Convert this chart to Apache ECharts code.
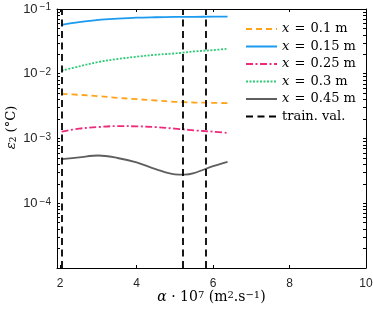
<!DOCTYPE html>
<html><head><meta charset="utf-8">
<script src="https://cdn.jsdelivr.net/npm/echarts@6/dist/echarts.min.js"></script>
<style>html,body{margin:0;padding:0;background:#fff}#c{width:373px;height:313px}</style>
</head><body><div id="c"></div>
<script>
// ---- data ----
const alphaVals = [2.04, 2.5, 3, 3.5, 4, 4.5, 5, 5.25, 5.5, 6, 6.38];
const eps_x010 = [0.0049, 0.00472, 0.0045, 0.00425, 0.00405, 0.00386, 0.00369, 0.00364, 0.0036, 0.00356, 0.00351];
const eps_x015 = [0.0568, 0.0625, 0.0678, 0.0710, 0.0735, 0.0746, 0.0754, 0.0755, 0.0756, 0.0762, 0.0763];
const eps_x025 = [0.001276, 0.00142, 0.001503, 0.001556, 0.00154, 0.001503, 0.00142, 0.001378, 0.001336, 0.001276, 0.001216];
const eps_x030 = [0.01116, 0.0130, 0.01517, 0.01687, 0.01832, 0.01965, 0.02058, 0.0213, 0.0221, 0.0232, 0.0243];
const eps_x045 = [4.8e-4, 5.12e-4, 5.46e-4, 5.0e-4, 4.27e-4, 3.36e-4, 2.8e-4, 2.77e-4, 2.92e-4, 3.74e-4, 4.36e-4];
const trainVals = [2.04, 5.2, 5.82];
const seriesNames = ['x = 0.1 m', 'x = 0.15 m', 'x = 0.25 m', 'x = 0.3 m', 'x = 0.45 m'];
const trainName = 'train. val.';
const xTicks = [2, 4, 6, 8, 10];
const yTicks = [1e-4, 1e-3, 1e-2, 1e-1];
const xRange = [1.92, 10];
const yRange = [1e-5, 1e-1];

// minor log tick values (k x 10^d)
const yMinor = [];
for (let d = -5; d <= -2; d++) for (let k = 1; k <= 9; k++) yMinor.push(k * Math.pow(10, d));
yMinor.push(1e-1);

const pairs = (ys) => alphaVals.map((a, i) => [a, ys[i]]);
const allY = [eps_x010, eps_x015, eps_x025, eps_x030, eps_x045];
const colors = ['#FFA31A', '#1A9BEF', '#EE2A7B', '#2FCB76', '#5E5E5E'];
const dashes = [[6, 4], 'solid', [7, 2.5, 2, 2.5], [2, 1.5], 'solid'];

const serif = 'DejaVu Serif';
const sans = 'Liberation Sans';

const chart = echarts.init(document.getElementById('c'), null, {renderer: 'canvas'});

const series = allY.map((ys, i) => ({
  name: seriesNames[i], type: 'line', data: pairs(ys), smooth: 0.35,
  symbol: 'none', showSymbol: false, xAxisIndex: 0, yAxisIndex: 0,
  lineStyle: {color: colors[i], width: 1.8, type: dashes[i]},
  itemStyle: {color: colors[i]}, z: 3
}));
series.push({
  name: trainName, type: 'line', data: [], symbol: 'none',
  lineStyle: {color: '#000', width: 1.8, type: [7, 4.5]}, itemStyle: {color: '#000'},
  markLine: {
    silent: true, symbol: 'none', label: {show: false},
    lineStyle: {color: '#000', width: 1.8, type: [7, 4.5]},
    data: trainVals.map(v => ({xAxis: v}))
  }, z: 4
});

const axisLineStyle = {show: true, lineStyle: {color: '#000', width: 1}};

chart.setOption({
  animation: false,
  backgroundColor: '#fff',
  grid: {left: 57, right: 7, top: 9, bottom: 45, containLabel: false, outerBoundsMode: 'none'},
  legend: {
    orient: 'vertical', left: 245, top: 22, padding: 0,
    itemWidth: 31, itemHeight: 14, itemGap: 3.5,
    itemStyle: {opacity: 0},
    data: seriesNames.concat([trainName]),
    formatter: (name) => name.startsWith('x') ? '{i|x} {e|=} ' + name.slice(4) : name,
    textStyle: {fontFamily: serif, fontSize: 13, color: '#000', lineHeight: 14,
      rich: {i: {fontFamily: serif, fontStyle: 'italic', fontSize: 13, color: '#000'},
             e: {fontFamily: serif, fontSize: 13, color: '#000', padding: [0, 1]}}}
  },
  xAxis: [{
    type: 'value', min: xRange[0], max: xRange[1], position: 'bottom',
    axisLine: axisLineStyle, splitLine: {show: false},
    axisTick: {show: true, inside: true, length: 3, customValues: xTicks, lineStyle: {color: '#000'}},
    axisLabel: {customValues: xTicks, color: '#262626', fontFamily: sans, fontSize: 12, margin: 10},
    name: '{i|α} · 10{sup|7} (m{sup|2}.s{sup|−1})', nameLocation: 'middle', nameGap: 22,
    nameMoveOverlap: false,
    nameTextStyle: {fontFamily: serif, fontSize: 14, color: '#000',
      rich: {i: {fontFamily: serif, fontStyle: 'italic', fontSize: 14, color: '#000'},
             sup: {fontFamily: serif, fontSize: 10, color: '#000', verticalAlign: 'top'}}}
  }, {
    type: 'value', min: xRange[0], max: xRange[1], position: 'top',
    axisLine: axisLineStyle, splitLine: {show: false},
    axisTick: {show: true, inside: true, length: 3, customValues: xTicks, lineStyle: {color: '#000'}},
    axisLabel: {show: false}
  }],
  yAxis: [{
    type: 'log', logBase: 10, min: yRange[0], max: yRange[1], position: 'left',
    axisLine: axisLineStyle, splitLine: {show: false}, minorTick: {show: false},
    axisTick: {show: true, inside: true, length: 3, customValues: yMinor, lineStyle: {color: '#000'}},
    axisLabel: {customValues: yTicks, margin: 6,
      formatter: (v) => '{b|10}{s|' + String(Math.round(Math.log10(v))).replace('-', '\u2212') + '}',
      rich: {b: {fontFamily: sans, fontSize: 13, color: '#262626'},
             s: {fontFamily: sans, fontSize: 10, color: '#262626', verticalAlign: 'top', padding: [0, 0, 0, 2]}}},
    name: '{i|ε}{sub|2} (°C)', nameLocation: 'middle', nameGap: 39,
    nameMoveOverlap: false,
    nameTextStyle: {fontFamily: serif, fontSize: 13, color: '#000', padding: [0, 0, 0, 22],
      rich: {i: {fontFamily: serif, fontStyle: 'italic', fontSize: 13, color: '#000'},
             sub: {fontFamily: serif, fontSize: 9, color: '#000', verticalAlign: 'bottom'}}}
  }, {
    type: 'log', logBase: 10, min: yRange[0], max: yRange[1], position: 'right',
    axisLine: axisLineStyle, splitLine: {show: false},
    axisTick: {show: true, inside: true, length: 3, customValues: yMinor, lineStyle: {color: '#000'}},
    axisLabel: {show: false}
  }],
  series: series
});
</script>
</body></html>
